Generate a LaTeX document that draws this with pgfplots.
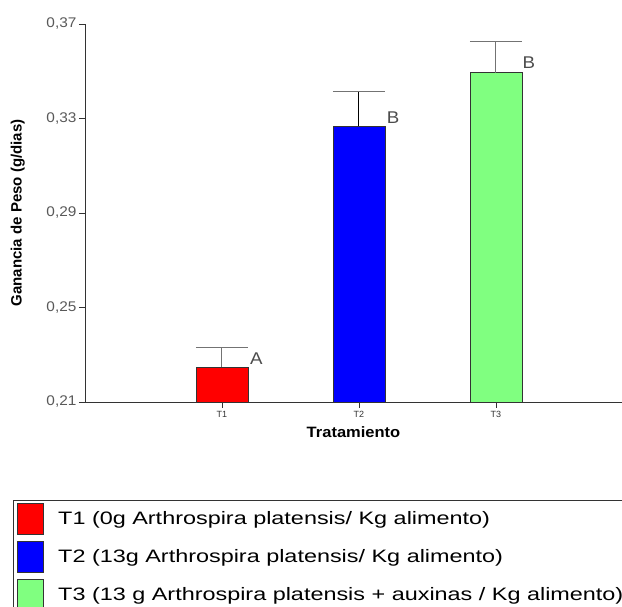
\documentclass[border=0pt]{standalone}
\usepackage{fontspec}
\setmainfont{Liberation Sans}
\newfontfamily\labfont[FakeStretch=1.1]{Liberation Sans}
\newfontfamily\legfont[FakeStretch=1.3]{Liberation Sans}
\usepackage{pgfplots}
\pgfplotsset{compat=1.18}
\begin{document}
\begin{tikzpicture}[x=1pt,y=1pt]
\useasboundingbox (0,0) rectangle (622,607);
\clip (0,0) rectangle (622,607);
\begin{axis}[
  scale only axis, width=537pt, height=378pt,
  at={(85pt,205pt)}, anchor=south west,
  xmin=0, xmax=3.92, ymin=0.21, ymax=0.37,
  axis lines*=left, axis line style={black!80, line width=0.8pt},
  ytick={0.21,0.25,0.29,0.33,0.37},
  xtick={1,2,3}, xticklabels={T1,T2,T3},
  tick align=outside, major tick length=6pt,
  tick style={black!80, line width=0.7pt},
  /pgf/number format/assume math mode=true,
  y tick label style={/pgf/number format/fixed, /pgf/number format/fixed zerofill, /pgf/number format/precision=2, /pgf/number format/use comma, font=\labfont\fontsize{14}{16}\selectfont, text=black!65, xshift=1pt},
  x tick label style={font=\fontsize{9}{10}\selectfont, text=black!80},
  xlabel={\textbf{Tratamiento}}, ylabel={\textbf{Ganancia de Peso (g/dias)}},
  xlabel style={font=\labfont\fontsize{15}{17}\selectfont, at={(axis description cs:0.5,-0.08)}, anchor=center},
  ylabel style={font=\fontsize{15}{17}\selectfont, at={(axis description cs:-0.125,0.5)}, anchor=center},
  ybar, bar width=52pt, bar shift=0pt,
  legend style={at={(-0.134,-0.259)}, anchor=north west, draw=black!80, line width=0.8pt,
    font=\legfont\fontsize{18}{20}\selectfont, row sep=6pt, inner xsep=4pt, inner ysep=3pt, cells={anchor=west},
    /tikz/every odd column/.append style={column sep=12pt}},
  legend image code/.code={\draw[#1, draw=black!80, line width=0.8pt] (0pt,-16pt) rectangle (26pt,15pt);},
  legend cell align=left,
  error bars/y dir=plus, error bars/y explicit,
  error bars/error mark options={rotate=90, mark size=26pt, black!55, line width=1pt},
]
\addplot[fill=red, draw=black!80, line width=0.8pt,
  error bars/error bar style={black!55, line width=1pt}] coordinates {(1,0.2248) +- (0,0.0081)};
\addlegendentry{T1 (0g Arthrospira platensis/ Kg alimento)}
\addplot[fill={rgb,255:red,0;green,0;blue,255}, draw=black!80, line width=0.8pt,
  error bars/error bar style={black, line width=1pt}] coordinates {(2,0.3268) +- (0,0.0148)};
\addlegendentry{T2 (13g Arthrospira platensis/ Kg alimento)}
\addplot[fill={rgb,255:red,128;green,255;blue,128}, draw=black!80, line width=0.8pt,
  error bars/error bar style={black!55, line width=1pt}] coordinates {(3,0.3493) +- (0,0.0135)};
\addlegendentry{T3 (13 g Arthrospira platensis + auxinas / Kg alimento)}
\node[text=black!70, font=\labfont\fontsize{17}{19}\selectfont] at (axis cs:1.25,0.2284) {A};
\node[text=black!70, font=\labfont\fontsize{17}{19}\selectfont] at (axis cs:2.25,0.3305) {B};
\node[text=black!70, font=\labfont\fontsize{17}{19}\selectfont] at (axis cs:3.24,0.3535) {B};
\end{axis}
\end{tikzpicture}
\end{document}
